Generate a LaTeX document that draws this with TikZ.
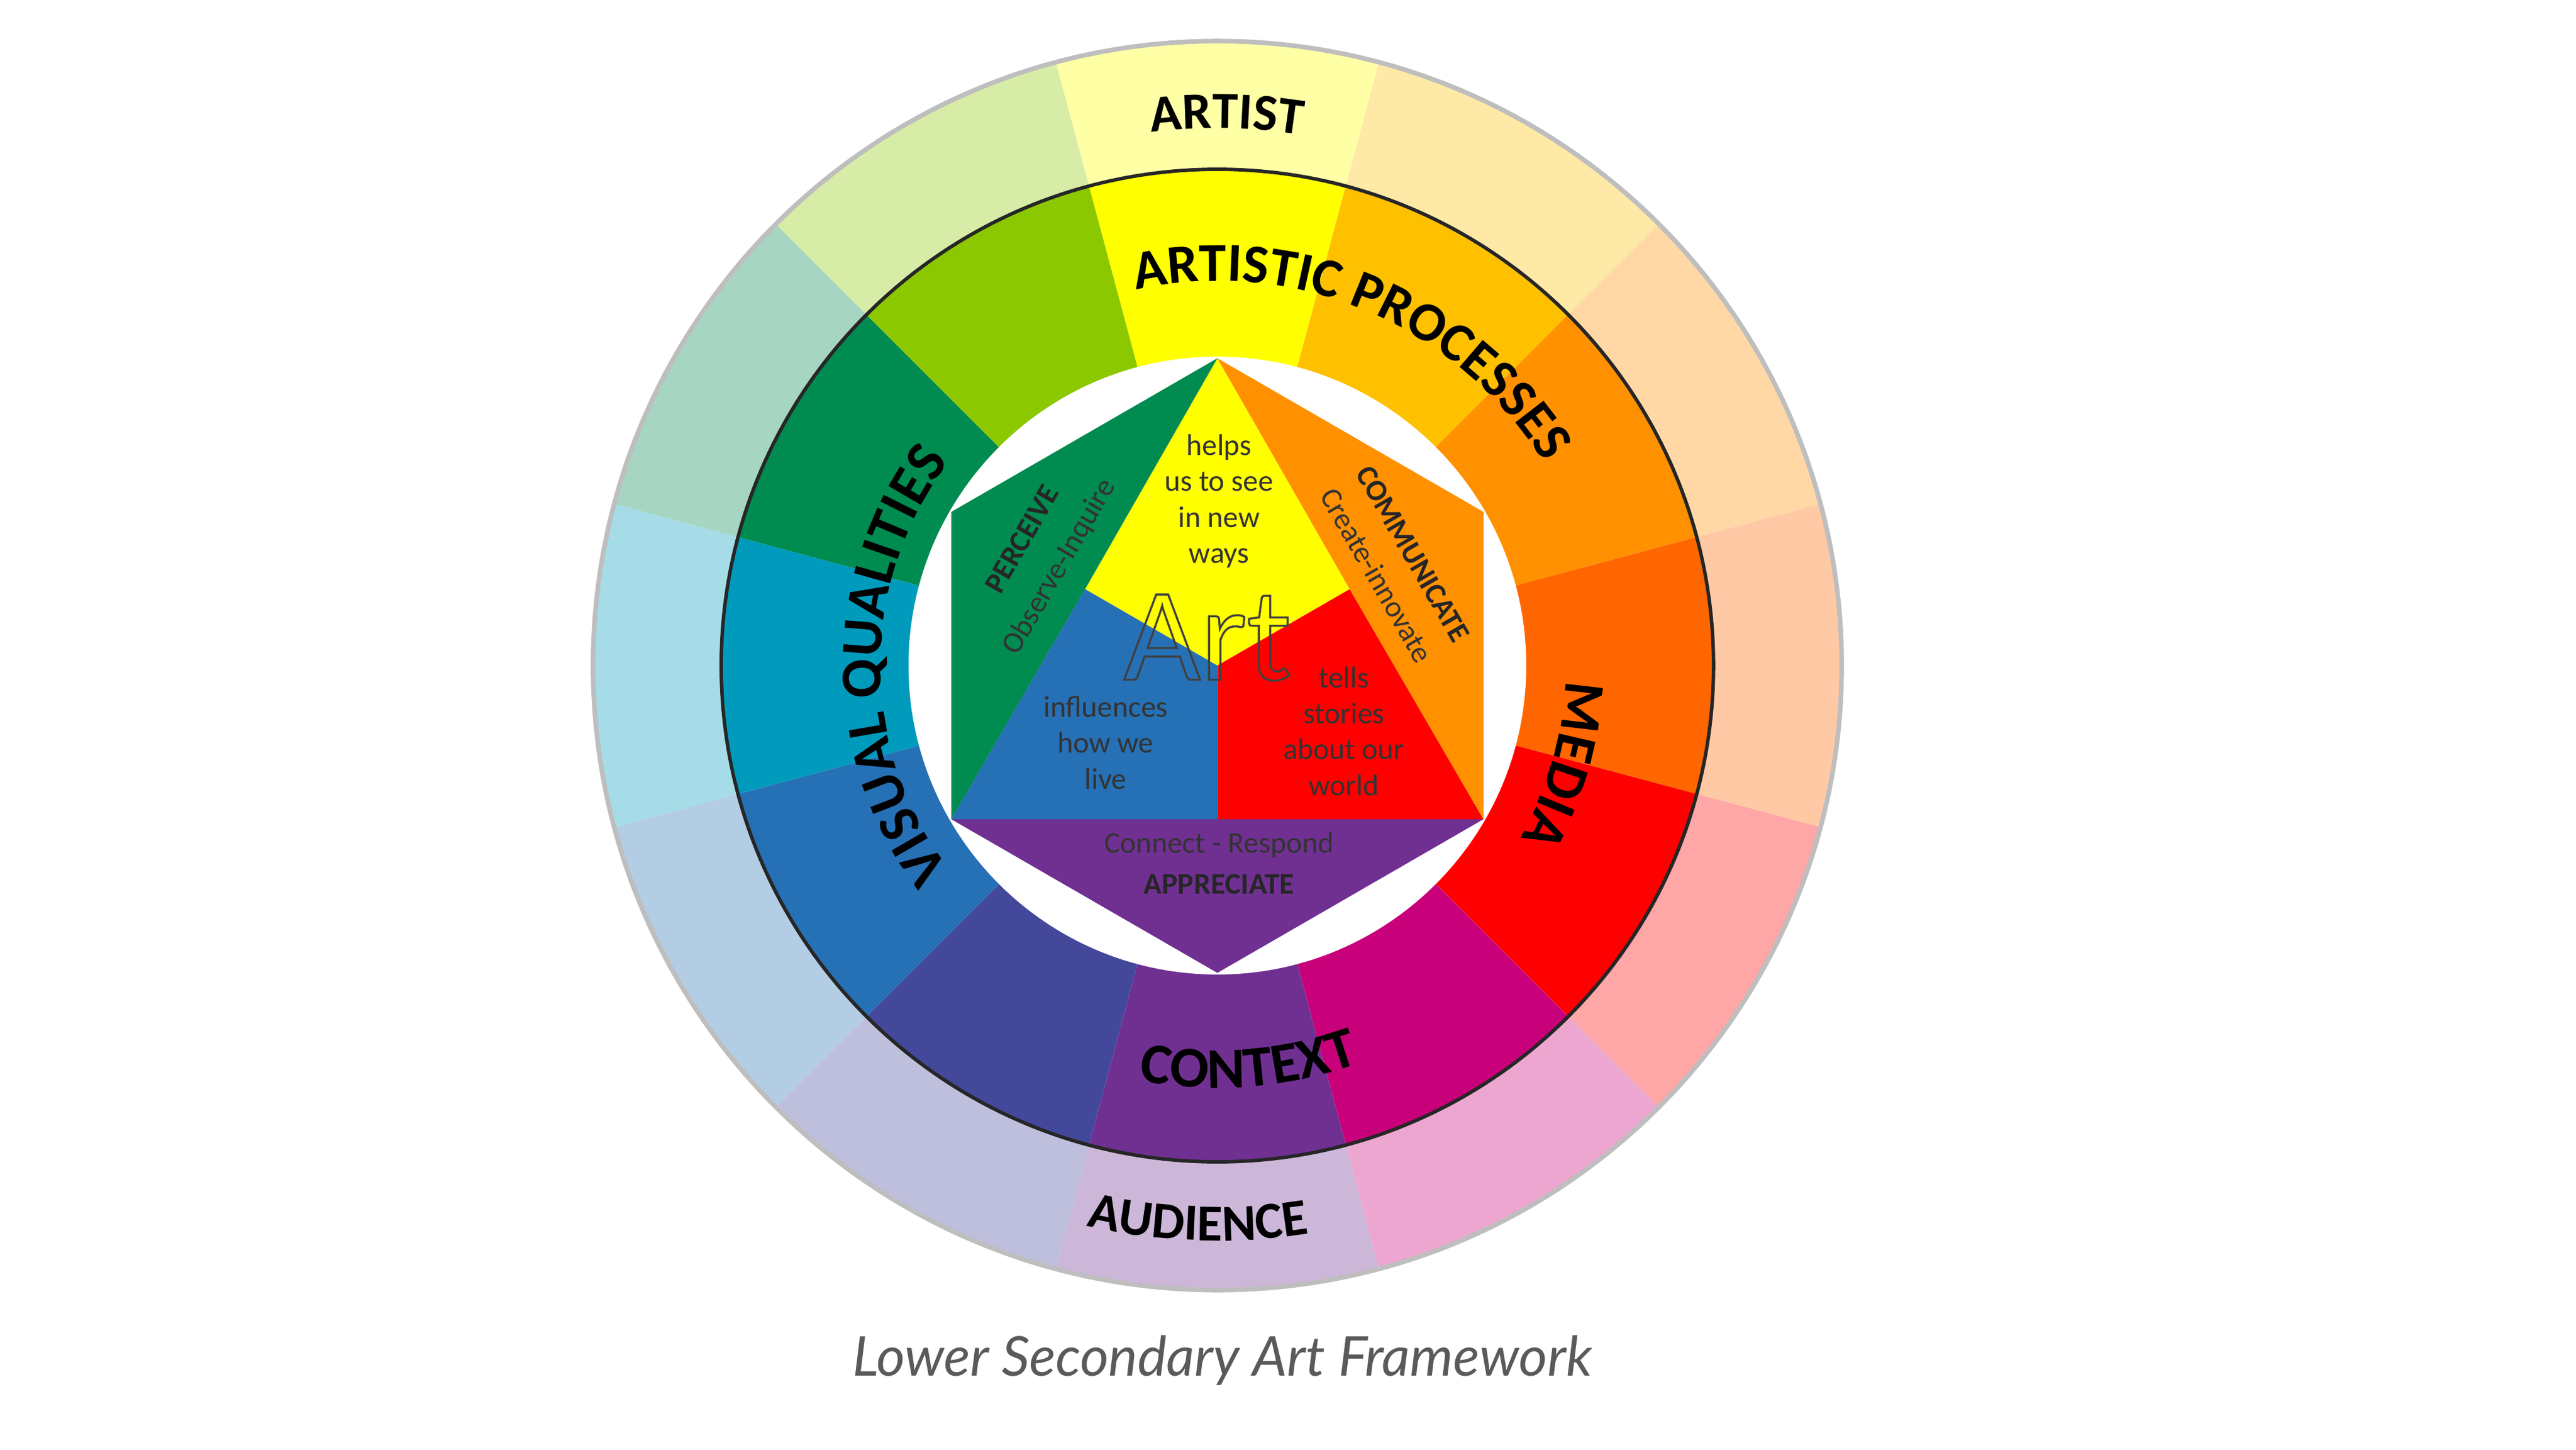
\documentclass[tikz,border=0pt]{standalone}
\usepackage{fontspec}
\usepackage{xcolor}
\usetikzlibrary{decorations.text, positioning, calc}
\newfontfamily\ringfont{Carlito}
\newfontfamily\capfont{Lato}
\definecolor{cYellow}{RGB}{255,255,0}
\definecolor{cYelOr}{RGB}{255,192,0}
\definecolor{cOrange}{RGB}{255,144,0}
\definecolor{cRedOr}{RGB}{255,102,0}
\definecolor{cRed}{RGB}{255,0,0}
\definecolor{cRedVi}{RGB}{200,0,122}
\definecolor{cViolet}{RGB}{112,48,146}
\definecolor{cBlueVi}{RGB}{67,72,155}
\definecolor{cBlue}{RGB}{38,112,181}
\definecolor{cCyan}{RGB}{0,154,189}
\definecolor{cGreen}{RGB}{0,139,80}
\definecolor{cYelGr}{RGB}{140,200,0}
\definecolor{rimgray}{RGB}{190,190,190}
\definecolor{capgray}{RGB}{90,90,90}

\begin{document}
\begin{tikzpicture}[
		band/.style={decorate, decoration={text along path, text align=center}},
		inner/.style={font=\ringfont\fontsize{5.2}{6.2}\selectfont, align=center, text=black!80},
		innerbold/.style={font=\ringfont\bfseries\fontsize{5.2}{6}\selectfont, text=black!85}
	]
	\useasboundingbox (0,0) rectangle (15.68,8.82);

	\begin{scope}[shift={(7.41,4.77)}]
		% colour wheel
		\foreach \ang/\col in {90/cYellow, 60/cYelOr, 30/cOrange, 0/cRedOr, -30/cRed, -60/cRedVi,
				-90/cViolet, -120/cBlueVi, -150/cBlue, 180/cCyan, 150/cGreen, 120/cYelGr} {
			\fill[\col!35] (0,0) -- (\ang-15:3.80) arc[start angle=\ang-15, end angle=\ang+15, radius=3.80] -- cycle;
			\fill[\col] (0,0) -- (\ang-15:3.02) arc[start angle=\ang-15, end angle=\ang+15, radius=3.02] -- cycle;
		}
		\draw[rimgray, line width=0.8pt] (0,0) circle (3.80);
		\draw[black!85, line width=0.6pt] (0,0) circle (3.02);
		\fill[white] (0,0) circle (1.88);

		% hexagon
		\coordinate (T) at (90:1.87);
		\coordinate (UL) at (150:1.87);
		\coordinate (LL) at (210:1.87);
		\coordinate (B) at (270:1.87);
		\coordinate (LR) at (330:1.87);
		\coordinate (UR) at (30:1.87);
		\coordinate (P150) at (150:0.93);
		\coordinate (P30) at (30:0.93);
		\coordinate (O) at (0,0);
		\coordinate (M) at (0,-0.935);
		\fill[cYellow] (T) -- (P150) -- (O) -- (P30) -- cycle;
		\fill[cGreen] (T) -- (UL) -- (LL) -- (P150) -- cycle;
		\fill[cBlue] (P150) -- (LL) -- (M) -- (O) -- cycle;
		\fill[cRed] (O) -- (M) -- (LR) -- (P30) -- cycle;
		\fill[cOrange] (T) -- (P30) -- (LR) -- (UR) -- cycle;
		\fill[cViolet] (LL) -- (B) -- (LR) -- cycle;

		% ring labels
		\path[band, decoration={text={|\ringfont\bfseries\fontsize{9}{9}\selectfont|ARTIST}}]
			(102:3.27) arc[start angle=102, end angle=76, radius=3.27];
		\path[band, decoration={text={|\ringfont\bfseries\fontsize{9}{9}\selectfont|AUDIENCE}}]
			(250:3.50) arc[start angle=250, end angle=286, radius=3.50];
		\path[band, decoration={text={|\ringfont\bfseries\fontsize{9.5}{9.5}\selectfont|ARTISTIC PROCESSES}}]
			(115:2.34) arc[start angle=115, end angle=19, radius=2.34];
		\path[band, decoration={text={|\ringfont\bfseries\fontsize{10}{10}\selectfont|VISUAL QUALITIES}}]
			(215:2.05) arc[start angle=215, end angle=145, radius=2.05];
		\path[band, decoration={text={|\ringfont\bfseries\fontsize{10}{10}\selectfont|MEDIA}}]
			(4:2.12) arc[start angle=4, end angle=-36, radius=2.12];
		\path[band, decoration={text={|\ringfont\bfseries\fontsize{10}{10}\selectfont|CONTEXT}}]
			(250:2.57) arc[start angle=250, end angle=299, radius=2.57];

		% hexagon labels
		\node (helps) [inner] at (0.01,1.0) {helps\\us to see\\in new\\ways};
		\node (influences) [inner] at (-0.68,-0.47) {influences\\how we\\live};
		\node (tells) [inner] at (0.77,-0.40) {tells\\stories\\about our\\world};
		\node (connect) [inner] at (0.01,-1.09) {Connect - Respond};
		\node (appreciate) [innerbold] at (0.01,-1.33) {APPRECIATE};
		\node (perceive) [innerbold, rotate=60] at (-1.19,0.77) {PERCEIVE};
		\node (observe) [inner, rotate=60] at (-0.96,0.60) {Observe-Inquire};
		\node (communicate) [innerbold, rotate=-60] at (1.19,0.68) {COMMUNICATE};
		\node (create) [inner, rotate=-60] at (0.97,0.55) {Create-innovate};
		\node (art) [font=\ringfont\fontsize{23}{23}\selectfont, text=black!75] at (-0.06,0.17)
			{\special{pdf:literal direct 1 Tr 0.35 w}Art\special{pdf:literal direct 0 Tr}};
	\end{scope}

	% caption
	\node (caption) [font=\capfont\itshape\fontsize{9.5}{9.5}\selectfont, text=capgray] at (7.44,0.54)
		{Lower Secondary Art Framework};
\end{tikzpicture}
\end{document}
